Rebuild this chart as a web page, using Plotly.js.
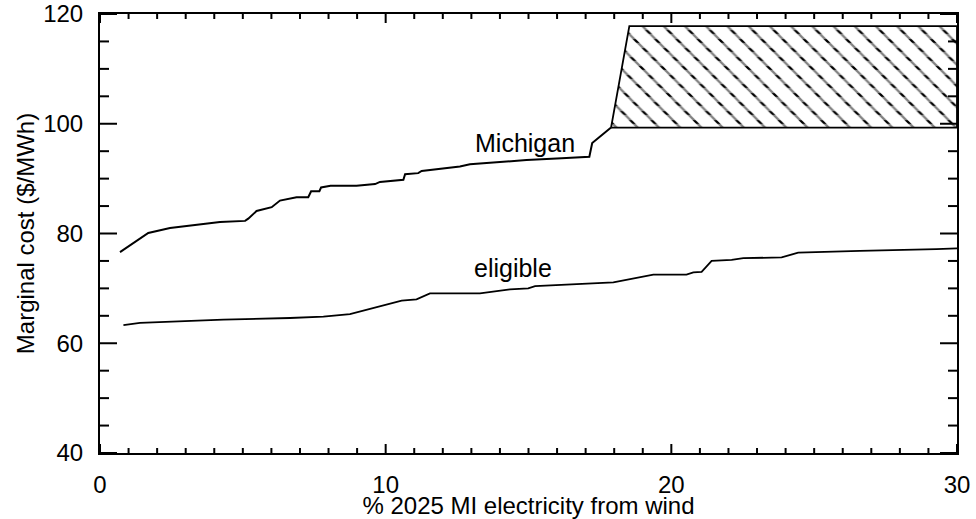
<!DOCTYPE html>
<html>
<head>
<meta charset="utf-8">
<script src="https://cdn.plot.ly/plotly-3.0.1.min.js"></script>
<style>
  html, body { margin: 0; padding: 0; background: #fff; }
  #chart { width: 976px; height: 519px; }
</style>
</head>
<body>
<div id="chart"></div>
<script>
// Marginal cost of wind supply vs. share of 2025 Michigan electricity
const michiganX = [0.70, 1.69, 2.45, 4.20, 5.08, 5.19, 5.48, 6.01, 6.30, 6.88, 7.29, 7.39, 7.68, 7.74, 8.07, 8.98, 9.63, 9.80, 10.62, 10.68, 11.14, 11.26, 12.60, 12.95, 14.93, 16.16, 17.13, 17.23, 17.89];
const michiganY = [76.6, 80.1, 81.0, 82.1, 82.3, 82.7, 84.1, 84.8, 86.0, 86.6, 86.6, 87.7, 87.7, 88.4, 88.7, 88.7, 89.0, 89.4, 89.8, 90.8, 91.0, 91.4, 92.2, 92.6, 93.4, 93.7, 94.0, 96.5, 99.3];

const eligibleX = [0.82, 1.40, 4.32, 6.65, 7.82, 8.75, 10.56, 11.08, 11.55, 13.30, 14.35, 14.99, 15.23, 17.97, 19.37, 20.53, 20.77, 21.06, 21.41, 22.11, 22.52, 23.86, 24.44, 26.60, 29.28, 30.00];
const eligibleY = [63.3, 63.7, 64.3, 64.6, 64.85, 65.3, 67.75, 68.0, 69.1, 69.1, 69.8, 70.0, 70.4, 71.1, 72.5, 72.5, 72.9, 73.0, 75.0, 75.2, 75.5, 75.65, 76.5, 76.85, 77.15, 77.3];

// Uncertain range beyond the Michigan supply curve (hatched)
const rangeX = [17.89, 18.53, 30, 30, 17.89];
const rangeY = [99.3, 117.8, 117.8, 99.3, 99.3];

const labelNames = ['Michigan', 'eligible'];
const labelX = [14.88, 14.45];
const labelY = [96.5, 73.7];

// Axis ranges and tick steps (major / minor)
const X_RANGE = [0, 30];
const Y_RANGE = [40, 120];
const X_MAJOR = 10, X_MINOR = 1;
const Y_MAJOR = 20, Y_MINOR = 5;

// Plot-area size in pixels, used to turn tick lengths into axis units
const PLOT_W = 976 - 100 - 19;
const PLOT_H = 519 - 14 - 66;
const pxToX = px => px * (X_RANGE[1] - X_RANGE[0]) / PLOT_W;
const pxToY = px => px * (Y_RANGE[1] - Y_RANGE[0]) / PLOT_H;

const FONT = 'Liberation Sans, Arial, Helvetica, sans-serif';

// Inward-pointing ticks on all four sides of the frame (one broken polyline)
const tickX = [], tickY = [];
for (let v = X_RANGE[0]; v <= X_RANGE[1]; v += X_MINOR) {
  const len = pxToY((v % X_MAJOR === 0) ? 9 : 5);
  tickX.push(v, v, null, v, v, null);
  tickY.push(Y_RANGE[0], Y_RANGE[0] + len, null, Y_RANGE[1], Y_RANGE[1] - len, null);
}
for (let v = Y_RANGE[0]; v <= Y_RANGE[1]; v += Y_MINOR) {
  const len = pxToX((v % Y_MAJOR === 0) ? 17 : 9);
  tickX.push(X_RANGE[0], X_RANGE[0] + len, null, X_RANGE[1], X_RANGE[1] - len, null);
  tickY.push(v, v, null, v, v, null);
}

const traces = [
  // diagonal hatch lines
  {
    x: rangeX, y: rangeY, mode: 'lines', fill: 'toself',
    fillpattern: { shape: '\\', size: 15, solidity: 0.15, fgcolor: 'black', bgcolor: 'white' },
    line: { width: 0 }, hoverinfo: 'skip', showlegend: false
  },
  // white horizontal bands break the hatch lines into short dashes
  {
    x: rangeX, y: rangeY, mode: 'lines', fill: 'toself',
    fillcolor: 'rgba(0,0,0,0)',
    fillpattern: { shape: '-', size: 9, solidity: 0.6, fgcolor: 'white', fillmode: 'overlay' },
    line: { width: 0 }, hoverinfo: 'skip', showlegend: false
  },
  // outline of the range
  {
    x: rangeX, y: rangeY, mode: 'lines',
    line: { color: 'black', width: 1.8 }, hoverinfo: 'skip', showlegend: false
  },
  {
    x: michiganX, y: michiganY, mode: 'lines',
    line: { color: 'black', width: 2, simplify: false }, showlegend: false
  },
  {
    x: eligibleX, y: eligibleY, mode: 'lines',
    line: { color: 'black', width: 1.8, simplify: false }, showlegend: false
  },
  {
    x: tickX, y: tickY, mode: 'lines', connectgaps: false,
    line: { color: 'black', width: 2, simplify: false }, hoverinfo: 'skip', showlegend: false
  }
];

const layout = {
  width: 976, height: 519,
  margin: { l: 100, r: 19, t: 14, b: 66 },
  paper_bgcolor: 'white', plot_bgcolor: 'white',
  font: { family: FONT, color: 'black' },
  showlegend: false,
  xaxis: {
    range: X_RANGE, tickmode: 'linear', tick0: X_RANGE[0], dtick: X_MAJOR,
    showgrid: false, zeroline: false,
    showline: true, linecolor: 'black', linewidth: 2, mirror: true,
    ticks: '', ticklabelstandoff: 9,
    tickfont: { family: FONT, size: 24, color: 'black' },
    title: { text: '% 2025 MI electricity from wind', font: { family: FONT, size: 24, color: 'black' }, standoff: 0 }
  },
  yaxis: {
    range: Y_RANGE, tickmode: 'linear', tick0: Y_RANGE[0], dtick: Y_MAJOR,
    showgrid: false, zeroline: false,
    showline: true, linecolor: 'black', linewidth: 2, mirror: true,
    ticks: '', ticklabelstandoff: 10,
    tickfont: { family: FONT, size: 24, color: 'black' },
    title: { text: 'Marginal cost ($/MWh)', font: { family: FONT, size: 24, color: 'black' }, standoff: 2 }
  },
  annotations: labelNames.map((t, i) => ({
    x: labelX[i], y: labelY[i], text: t, showarrow: false,
    font: { family: FONT, size: 25, color: 'black' }
  }))
};

Plotly.newPlot('chart', traces, layout, { displayModeBar: false, staticPlot: true });
</script>
</body>
</html>
